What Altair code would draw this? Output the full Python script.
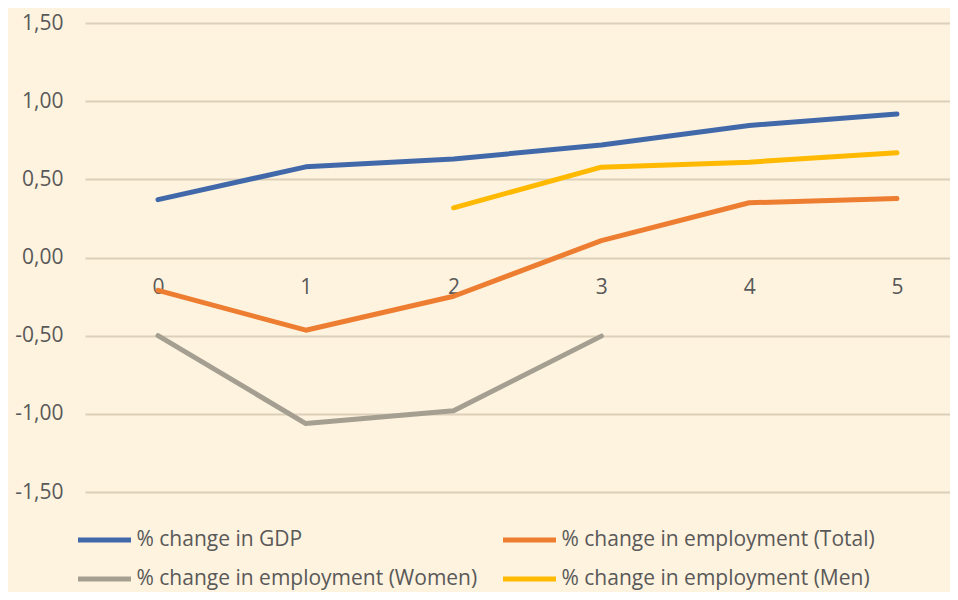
import altair as alt
import pandas as pd

x_cats = [0, 1, 2, 3, 4, 5]
series_names = [
    "% change in GDP",
    "% change in employment (Women)",
    "% change in employment (Total)",
    "% change in employment (Men)",
]
gdp = [0.37, 0.58, 0.63, 0.72, 0.845, 0.918]
emp_total = [-0.21, -0.465, -0.248, 0.108, 0.35, 0.377]
emp_women = [-0.50, -1.062, -0.98, -0.503, None, None]
emp_men = [None, None, 0.318, 0.578, 0.61, 0.67]
y_ticks = [-1.5, -1.0, -0.5, 0.0, 0.5, 1.0, 1.5]
colors = ["#4169AA", "#A59F92", "#ED7D31", "#FFB900"]

rows = []
for name, vals in zip(series_names, [gdp, emp_women, emp_total, emp_men]):
    for x, v in zip(x_cats, vals):
        if v is not None:
            rows.append({"x": x, "value": v, "series": name})
df = pd.DataFrame(rows)

FONT = "Open Sans"
TXT = "#595959"

chart = alt.Chart(df).mark_line(
    strokeWidth=5, strokeCap="round", strokeJoin="round"
).encode(
    x=alt.X(
        "x:Q",
        scale=alt.Scale(domain=[-0.494, 5.359], nice=False, zero=False),
        axis=alt.Axis(
            values=x_cats, format="d", orient="bottom", offset=-234,
            domain=False, ticks=False, grid=False, labelPadding=18,
            labelFontSize=21, labelColor=TXT, labelFont=FONT,
            labelFlush=False, title=None,
        ),
    ),
    y=alt.Y(
        "value:Q",
        scale=alt.Scale(domain=[-1.5, 1.5], nice=False, zero=False),
        axis=alt.Axis(
            values=y_ticks,
            labelExpr="(datum.value < 0 ? '-' : '') + replace(format(abs(datum.value), '.2f'), '.', ',')",
            domain=False, ticks=False, gridColor="#DCD0BA", gridWidth=2,
            labelPadding=22, labelFontSize=21, labelColor=TXT, labelFont=FONT,
            title=None,
        ),
    ),
    color=alt.Color(
        "series:N",
        sort=series_names,
        scale=alt.Scale(domain=series_names, range=colors),
        legend=alt.Legend(
            orient="none", legendX=-9.5, legendY=488, columns=2,
            symbolType="stroke", symbolSize=2809, symbolStrokeWidth=5,
            labelFontSize=21, labelFont=FONT, labelColor=TXT,
            labelOffset=3, columnPadding=15, rowPadding=-13,
            title=None, labelLimit=0,
        ),
    ),
).properties(
    width=865,
    height=469,
    background="#FEF3DF",
    padding={"left": 77, "top": 15, "right": 0, "bottom": 100},
    autosize=alt.AutoSizeParams(type="none"),
).configure_view(stroke=None)

chart.save("out.html", embed_options={"renderer": "svg", "actions": False})
